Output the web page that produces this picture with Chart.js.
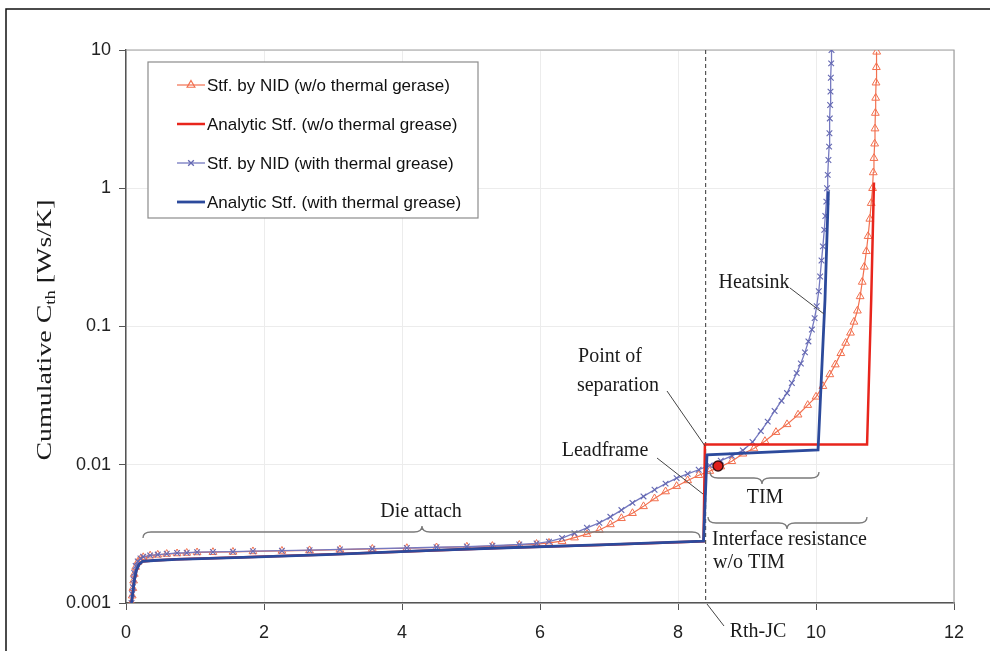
<!DOCTYPE html>
<html>
<head>
<meta charset="utf-8">
<script src="https://cdn.jsdelivr.net/npm/chart.js@4.4.0/dist/chart.umd.min.js"></script>
<style>
  html, body { margin: 0; padding: 0; background: #fff; }
  #wrap { width: 990px; height: 651px; }
</style>
</head>
<body>
<div id="wrap"><canvas id="cthChart" width="990" height="651"></canvas></div>
<script>
// axis ticks
const xTicks = [0, 2, 4, 6, 8, 10, 12];
const yTicks = [0.001, 0.01, 0.1, 1, 10];

// Rth-JC position (dashed line) and the separation point
const rthJC = 8.4;
const separationPoint = [[8.58, 0.0098]];

// Stf. by NID (w/o thermal grease)
const nidNoGrease = [
    [0.08, 0.001], [0.09, 0.00113], [0.10, 0.00128], [0.11, 0.00145], [0.12, 0.00162], [0.14, 0.00182],
    [0.17, 0.00198], [0.21, 0.00208], [0.25, 0.00214], [0.35, 0.0022], [0.46, 0.00223], [0.59, 0.00226],
    [0.74, 0.00228], [0.88, 0.0023], [1.03, 0.00232], [1.26, 0.00233], [1.55, 0.00234], [1.84, 0.00236],
    [2.26, 0.00238], [2.66, 0.0024], [3.1, 0.00243], [3.57, 0.00246], [4.07, 0.00249], [4.5, 0.00252],
    [4.94, 0.00255], [5.31, 0.00258], [5.7, 0.00263], [5.95, 0.00267], [6.13, 0.00272], [6.32, 0.0028],
    [6.5, 0.00297], [6.68, 0.00315], [6.86, 0.00337], [7.02, 0.0037], [7.18, 0.0041], [7.34, 0.00446],
    [7.5, 0.005], [7.66, 0.0057], [7.82, 0.0064], [7.98, 0.007], [8.14, 0.0077], [8.3, 0.0084],
    [8.46, 0.009], [8.62, 0.0097], [8.78, 0.0106], [8.94, 0.012], [9.1, 0.0131], [9.26, 0.0148],
    [9.42, 0.0172], [9.58, 0.0196], [9.74, 0.023], [9.88, 0.027], [10.0, 0.031], [10.1, 0.037],
    [10.2, 0.045], [10.28, 0.053], [10.36, 0.064], [10.43, 0.076], [10.5, 0.09], [10.55, 0.108],
    [10.6, 0.13], [10.64, 0.165], [10.67, 0.21], [10.7, 0.27], [10.73, 0.35], [10.755, 0.45],
    [10.78, 0.6], [10.8, 0.78], [10.82, 1.0], [10.83, 1.3], [10.84, 1.65], [10.85, 2.1],
    [10.855, 2.7], [10.86, 3.5], [10.865, 4.5], [10.87, 5.8], [10.875, 7.5], [10.88, 9.7]
];

// Analytic Stf. (w/o thermal grease)
const analyticNoGrease = [
    [0.08, 0.001], [0.1, 0.0012], [0.12, 0.00145], [0.15, 0.00172], [0.19, 0.0019], [0.24, 0.002],
    [0.4, 0.00203], [0.73, 0.00207], [1.7, 0.00214], [2.9, 0.00224], [4.44, 0.0024], [5.4, 0.0025],
    [6.86, 0.00263], [8.37, 0.0028], [8.39, 0.014], [10.74, 0.014], [10.8, 0.156], [10.84, 1.1]
];

// Stf. by NID (with thermal grease)
const nidGrease = [
    [0.08, 0.001], [0.09, 0.00116], [0.10, 0.0013], [0.11, 0.00148], [0.12, 0.00165], [0.14, 0.00185],
    [0.17, 0.002], [0.21, 0.0021], [0.25, 0.00216], [0.35, 0.00221], [0.46, 0.00224], [0.59, 0.00227],
    [0.74, 0.0023], [0.88, 0.00231], [1.03, 0.00233], [1.26, 0.00234], [1.55, 0.00235], [1.84, 0.00237],
    [2.26, 0.00239], [2.66, 0.00241], [3.1, 0.00244], [3.57, 0.00247], [4.07, 0.0025], [4.5, 0.00253],
    [4.94, 0.00256], [5.31, 0.0026], [5.7, 0.00265], [5.95, 0.0027], [6.13, 0.00278], [6.32, 0.00295],
    [6.5, 0.0032], [6.68, 0.0035], [6.86, 0.0038], [7.02, 0.0042], [7.18, 0.0047], [7.34, 0.0053],
    [7.5, 0.0059], [7.66, 0.0066], [7.82, 0.0073], [7.98, 0.008], [8.14, 0.0086], [8.3, 0.0092],
    [8.46, 0.0099], [8.62, 0.0107], [8.78, 0.0116], [8.94, 0.0127], [9.08, 0.0146], [9.2, 0.0175],
    [9.3, 0.0205], [9.4, 0.0245], [9.5, 0.029], [9.58, 0.033], [9.65, 0.039], [9.72, 0.046],
    [9.78, 0.054], [9.84, 0.065], [9.89, 0.078], [9.94, 0.095], [9.98, 0.115], [10.01, 0.14],
    [10.04, 0.18], [10.06, 0.23], [10.08, 0.3], [10.1, 0.38], [10.12, 0.5], [10.135, 0.63],
    [10.15, 0.8], [10.16, 1.0], [10.17, 1.25], [10.18, 1.6], [10.19, 2.0], [10.195, 2.5],
    [10.2, 3.2], [10.205, 4.0], [10.21, 5.0], [10.215, 6.3], [10.22, 8.0], [10.225, 10.0]
];

// Analytic Stf. (with thermal grease)
const analyticGrease = [
    [0.08, 0.001], [0.1, 0.0012], [0.12, 0.00145], [0.15, 0.00172], [0.19, 0.0019], [0.24, 0.002],
    [0.4, 0.00203], [0.73, 0.00207], [1.7, 0.00214], [2.9, 0.00224], [4.44, 0.0024], [5.4, 0.0025],
    [6.86, 0.00263], [8.37, 0.0028], [8.42, 0.0118], [10.03, 0.0128], [10.13, 0.155], [10.18, 0.95]
];

const toPts = arr => arr.map(p => ({x: p[0], y: p[1]}));

const serif = '"Liberation Serif", "Times New Roman", serif';
const sans = '"Liberation Sans", Arial, sans-serif';

function brace(ctx, x1, x2, xm, y, s) {
    // s = 1 : tip points down, s = -1 : tip points up
    const h = 6, r = 8;
    ctx.beginPath();
    ctx.moveTo(x1, y - s * h);
    ctx.quadraticCurveTo(x1, y, x1 + r, y);
    ctx.lineTo(xm - r, y);
    ctx.quadraticCurveTo(xm, y, xm, y + s * h);
    ctx.quadraticCurveTo(xm, y, xm + r, y);
    ctx.lineTo(x2 - r, y);
    ctx.quadraticCurveTo(x2, y, x2, y - s * h);
    ctx.stroke();
}

function line(ctx, x1, y1, x2, y2) {
    ctx.beginPath();
    ctx.moveTo(x1, y1);
    ctx.lineTo(x2, y2);
    ctx.stroke();
}

const decorPlugin = {
    id: 'decor',
    beforeDatasetsDraw(chart) {
        const ctx = chart.ctx;
        const a = chart.chartArea;
        const xs = chart.scales.x;
        ctx.save();
        // outer figure frame
        ctx.strokeStyle = '#111';
        ctx.lineWidth = 1.5;
        ctx.beginPath();
        ctx.moveTo(6, 651);
        ctx.lineTo(6, 9);
        ctx.lineTo(990, 9);
        ctx.stroke();
        // top / right edge of plot area
        ctx.strokeStyle = '#a0a0a0';
        ctx.lineWidth = 1.2;
        ctx.beginPath();
        ctx.moveTo(a.left, a.top);
        ctx.lineTo(a.right, a.top);
        ctx.lineTo(a.right, a.bottom);
        ctx.stroke();
        // Rth-JC dashed line
        const xr = xs.getPixelForValue(rthJC);
        ctx.strokeStyle = '#555';
        ctx.lineWidth = 1.2;
        ctx.setLineDash([4, 3]);
        line(ctx, xr, a.top, xr, a.bottom);
        ctx.restore();
    },
    afterDatasetsDraw(chart) {
        const ctx = chart.ctx;
        ctx.save();

        // braces
        ctx.strokeStyle = '#7a7a7a';
        ctx.lineWidth = 1.3;
        brace(ctx, 143, 700, 422, 532, -1);
        brace(ctx, 710, 819, 762, 478, 1);
        brace(ctx, 708, 867, 787, 523, 1);

        // leader lines
        ctx.strokeStyle = '#444';
        ctx.lineWidth = 1;
        line(ctx, 667, 391, 705, 446);
        line(ctx, 657, 458, 703, 494);
        line(ctx, 790, 288, 824, 314);
        line(ctx, 707, 604, 724, 626);

        // annotation texts
        ctx.fillStyle = '#1a1a1a';
        ctx.font = '20px ' + serif;
        ctx.textBaseline = 'middle';
        ctx.textAlign = 'center';
        ctx.fillText('Die attach', 421, 512);
        ctx.fillText('Point of', 610, 357);
        ctx.fillText('separation', 618, 386);
        ctx.fillText('Leadframe', 605, 451);
        ctx.fillText('Heatsink', 754, 283);
        ctx.fillText('TIM', 765, 498);
        ctx.fillText('Rth-JC', 758, 632);
        ctx.textAlign = 'left';
        ctx.fillText('Interface resistance', 712, 540);
        ctx.fillText('w/o TIM', 713, 563);

        // y axis title with subscript
        ctx.save();
        ctx.translate(45, 330);
        ctx.rotate(-Math.PI / 2);
        ctx.scale(1.33, 1);
        const p1 = 'Cumulative C', p2 = 'th', p3 = ' [Ws/K]';
        ctx.font = '21px ' + serif;
        const w1 = ctx.measureText(p1).width, w3 = ctx.measureText(p3).width;
        ctx.font = '14px ' + serif;
        const w2 = ctx.measureText(p2).width;
        let x0 = -(w1 + w2 + w3) / 2;
        ctx.textAlign = 'left';
        ctx.font = '21px ' + serif;
        ctx.fillText(p1, x0, 0);
        ctx.font = '14px ' + serif;
        ctx.fillText(p2, x0 + w1, 6);
        ctx.font = '21px ' + serif;
        ctx.fillText(p3, x0 + w1 + w2, 0);
        ctx.restore();

        // legend box
        ctx.fillStyle = '#fff';
        ctx.fillRect(148, 62, 330, 156);
        ctx.strokeStyle = '#8c8c8c';
        ctx.lineWidth = 1.2;
        ctx.strokeRect(148, 62, 330, 156);
        const rows = [85, 124, 163, 202];
        ctx.font = '17px ' + sans;
        ctx.textAlign = 'left';
        chart.data.datasets.slice(0, 4).forEach((ds, i) => {
            const y = rows[i];
            ctx.strokeStyle = ds.borderColor;
            ctx.lineWidth = ds.borderWidth;
            line(ctx, 177, y, 205, y);
            if (ds.pointRadius > 0) {
                ctx.strokeStyle = ds.pointBorderColor;
                ctx.fillStyle = 'rgba(0,0,0,0)';
                Chart.helpers.drawPoint(ctx, {
                    pointStyle: ds.pointStyle, radius: ds.pointRadius,
                    rotation: 0, borderWidth: 1
                }, 191, y);
            }
            ctx.fillStyle = '#111';
            ctx.fillText(ds.label, 207, y + 1);
        });
        ctx.restore();
    }
};

new Chart(document.getElementById('cthChart').getContext('2d'), {
    type: 'scatter',
    data: {
        datasets: [{
            label: 'Stf. by NID (w/o thermal gerase)',
            data: toPts(nidNoGrease),
            showLine: true,
            borderColor: '#f2704f',
            borderWidth: 1.2,
            pointStyle: 'triangle',
            pointRadius: 4.5,
            pointBorderColor: '#f2704f',
            pointBackgroundColor: 'rgba(255,255,255,0)',
            pointBorderWidth: 1,
            order: 4
        }, {
            label: 'Analytic Stf. (w/o thermal grease)',
            data: toPts(analyticNoGrease),
            showLine: true,
            borderColor: '#e8251c',
            borderWidth: 2.5,
            pointRadius: 0,
            order: 2
        }, {
            label: 'Stf. by NID (with thermal grease)',
            data: toPts(nidGrease),
            showLine: true,
            borderColor: '#7579c0',
            borderWidth: 1.3,
            pointStyle: 'crossRot',
            pointRadius: 4,
            pointBorderColor: '#6468b2',
            pointBorderWidth: 1.1,
            order: 3
        }, {
            label: 'Analytic Stf. (with thermal grease)',
            data: toPts(analyticGrease),
            showLine: true,
            borderColor: '#2c4a9c',
            borderWidth: 2.8,
            pointRadius: 0,
            order: 1
        }, {
            label: 'Point of separation',
            data: toPts(separationPoint),
            pointRadius: 5,
            pointBackgroundColor: '#e0201b',
            pointBorderColor: '#3a1010',
            pointBorderWidth: 1.5,
            order: 0
        }]
    },
    options: {
        responsive: false,
        animation: false,
        devicePixelRatio: 1,
        layout: {
            padding: {top: 50, right: 36, left: 0, bottom: 0}
        },
        plugins: {
            legend: {display: false},
            tooltip: {enabled: false}
        },
        elements: {
            line: {tension: 0}
        },
        scales: {
            x: {
                type: 'linear',
                min: 0,
                max: 12,
                afterBuildTicks: function (scale) {
                    scale.ticks = xTicks.map(v => ({value: v}));
                },
                afterFit: function (scale) {
                    scale.height = 48;
                },
                ticks: {
                    color: '#222',
                    font: {family: sans, size: 18},
                    padding: 12
                },
                grid: {
                    color: '#ececec',
                    tickColor: '#555',
                    tickLength: 7
                },
                border: {color: '#555', width: 1.5}
            },
            y: {
                type: 'logarithmic',
                min: 0.001,
                max: 10,
                afterBuildTicks: function (scale) {
                    scale.ticks = yTicks.map(v => ({value: v}));
                },
                afterFit: function (scale) {
                    scale.width = 126;
                },
                ticks: {
                    color: '#222',
                    font: {family: sans, size: 18},
                    padding: 8,
                    callback: function (value) {
                        return String(value);
                    }
                },
                grid: {
                    color: '#ececec',
                    tickColor: '#555',
                    tickLength: 7
                },
                border: {color: '#555', width: 1.5}
            }
        }
    },
    plugins: [decorPlugin]
});
</script>
</body>
</html>
